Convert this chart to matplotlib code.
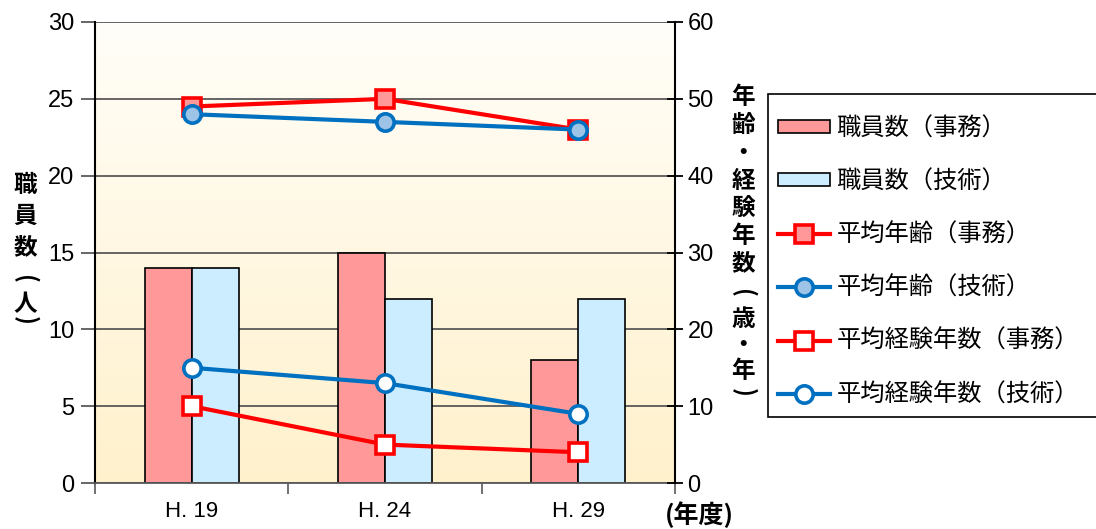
import numpy as np
import matplotlib
matplotlib.use("Agg")
import matplotlib.pyplot as plt
from matplotlib.patches import Patch, Rectangle
from matplotlib.lines import Line2D

plt.rcParams['font.family'] = ['Noto Sans CJK JP', 'DejaVu Sans']

years = ['H. 19', 'H. 24', 'H. 29']
staff_jimu = [14, 15, 8]
staff_gijutsu = [14, 12, 12]
age_jimu = [49, 50, 46]
age_gijutsu = [48, 47, 46]
exp_jimu = [10, 5, 4]
exp_gijutsu = [15, 13, 9]

RED = '#FF0000'
BLUE = '#0070C0'
PINK = '#FF9999'
SKY = '#CCECFF'
NUMFONT = ['Liberation Sans', 'DejaVu Sans']

W, H = 1096, 529
fig = plt.figure(figsize=(W / 100, H / 100), dpi=100)
ax = fig.add_axes([95 / W, 46 / H, 580 / W, 461 / H])
ax2 = ax.twinx()

x = np.arange(len(years))
w = 0.243

# cream gradient behind the plot area (light at top, warmer at bottom)
grad = np.linspace(0, 1, 256).reshape(256, 1, 1)
top = np.array([1.0, 0.996, 0.975])
bot = np.array([1.0, 0.945, 0.80])
img = bot + (top - bot) * grad
ax.imshow(img, aspect='auto', extent=(-0.5, 2.5, 0, 30), origin='lower', zorder=0)
ax.set_xlim(-0.5, 2.5)
ax.set_ylim(0, 30)

ax.bar(x - w / 2, staff_jimu, w, color=PINK, edgecolor='black', linewidth=1.2, zorder=2)
ax.bar(x + w / 2, staff_gijutsu, w, color=SKY, edgecolor='black', linewidth=1.2, zorder=2)

ax.set_yticks(range(0, 31, 5))
ax.grid(axis='y', color='#595959', linewidth=1.3, zorder=1)
ax.set_axisbelow(True)
ax.tick_params(axis='y', direction='out', length=10, width=1.3, color='#595959',
               labelsize=17, pad=5, labelfontfamily=NUMFONT)
ax.set_xticks([-0.5, 0.5, 1.5, 2.5])
ax.set_xticklabels([])
ax.set_xticks(x, minor=True)
ax.set_xticklabels(years, minor=True)
ax.tick_params(axis='x', which='major', direction='out', length=8, width=1.2, color='#595959')
ax.tick_params(axis='x', which='minor', length=0, pad=13, labelsize=16, labelfontfamily=NUMFONT)
for s in ['top', 'right']:
    ax.spines[s].set_visible(False)
ax.spines['left'].set_linewidth(1.5)
ax.spines['bottom'].set_linewidth(1.3)
ax.spines['bottom'].set_color('#595959')

ax2.set_ylim(0, 60)
ax2.set_yticks(range(0, 61, 10))
ax2.tick_params(axis='y', direction='inout', length=12, width=1.3, labelsize=17, pad=3,
                labelfontfamily=NUMFONT)
ax2.spines['right'].set_linewidth(1.5)
for s in ['top', 'left', 'bottom']:
    ax2.spines[s].set_visible(False)

ms = 12.5
mew = 2.6
lw = 3.0
ax2.plot(x, age_jimu, color=RED, lw=lw, marker='s', ms=ms, mfc=PINK, mec=RED, mew=mew, zorder=4)
ax2.plot(x, age_gijutsu, color=BLUE, lw=lw, marker='o', ms=ms, mfc='#9DC3E6', mec=BLUE, mew=mew, zorder=4)
ax2.plot(x, exp_jimu, color=RED, lw=lw, marker='s', ms=ms, mfc='white', mec=RED, mew=mew, zorder=4)
ax2.plot(x, exp_gijutsu, color=BLUE, lw=lw, marker='o', ms=ms, mfc='white', mec=BLUE, mew=mew, zorder=4)


def vertical_title(chars, xpx, ypx_list, size):
    # stack characters top to bottom; brackets turned a quarter for vertical writing
    for ch, ypx in zip(chars, ypx_list):
        rot = -90 if ch in '()' else 0
        fig.text(xpx / W, 1 - ypx / H, ch, ha='center', va='center', fontsize=size,
                 fontweight='bold', rotation=rot, rotation_mode='anchor')


vertical_title('職員数(人)', 25, [185, 216, 247, 279, 304, 320], 17)
vertical_title('年齢・経験年数(歳・年)', 743,
               [97, 125, 153, 181, 209, 236, 263, 293, 319, 345, 371, 392], 17)
fig.text(665 / W, 1 - 515 / H, '(年度)', ha='left', va='center', fontsize=18, fontweight='bold')

# legend frame, open past the right edge of the figure
fig.patches.append(Rectangle((768 / W, 1 - 417 / H), 340 / W, 323 / H, transform=fig.transFigure,
                             facecolor='white', edgecolor='black', linewidth=1.2, zorder=1))

handles = [
    Patch(facecolor=PINK, edgecolor='black', linewidth=1.2),
    Patch(facecolor=SKY, edgecolor='black', linewidth=1.2),
    Line2D([], [], color=RED, lw=lw, marker='s', ms=ms, mfc=PINK, mec=RED, mew=mew),
    Line2D([], [], color=BLUE, lw=lw, marker='o', ms=ms, mfc='#9DC3E6', mec=BLUE, mew=mew),
    Line2D([], [], color=RED, lw=lw, marker='s', ms=ms, mfc='white', mec=RED, mew=mew),
    Line2D([], [], color=BLUE, lw=lw, marker='o', ms=ms, mfc='white', mec=BLUE, mew=mew),
]
labels = ['職員数（事務）', '職員数（技術）', '平均年齢（事務）', '平均年齢（技術）',
          '平均経験年数（事務）', '平均経験年数（技術）']
leg = fig.legend(handles, labels, loc='upper left', bbox_to_anchor=(768 / W, 1 - 105 / H),
                 fontsize=17.5, frameon=False, handlelength=2.15, handleheight=0.42,
                 handletextpad=0.25, labelspacing=1.12, borderpad=0.42, borderaxespad=0)

fig.savefig('out.png', dpi=100)
